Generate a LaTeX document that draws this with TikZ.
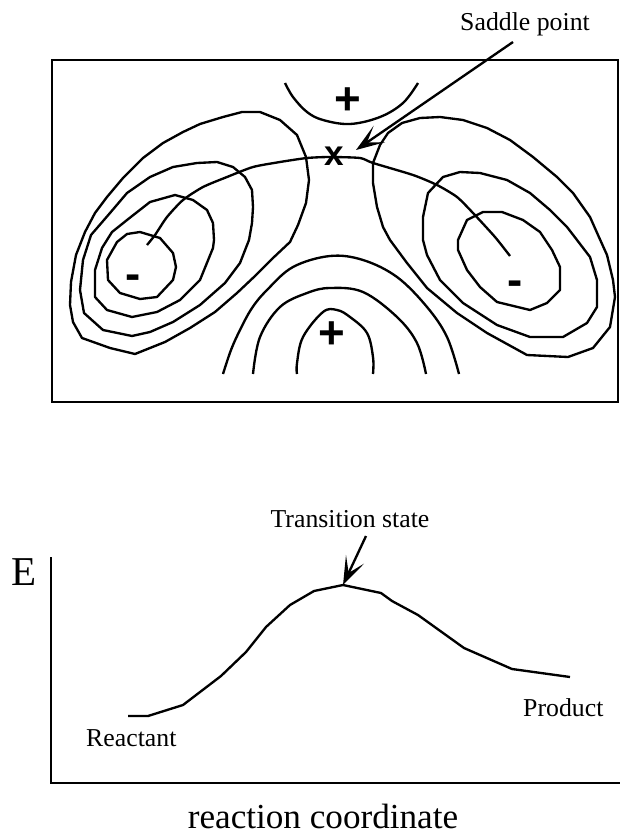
\documentclass[tikz,border=0pt]{standalone}
\usepackage{fontspec}
\setmainfont{Liberation Serif}
\newfontfamily\signfont{Liberation Sans}[BoldFont={Liberation Sans Bold}]
\usetikzlibrary{arrows.meta}

\begin{document}
\begin{tikzpicture}[
    x=0.03cm, y=-0.03cm,
    contour/.style={line width=2pt, line join=round},
    frame/.style={line width=2.2pt},
    lbl/.style={inner sep=0pt, font=\fontsize{22}{26}\selectfont},
    biglbl/.style={inner sep=0pt, font=\fontsize{30}{36}\selectfont},
    sign/.style={inner sep=0pt, anchor=base, font=\signfont\bfseries\fontsize{39}{44}\selectfont},
    arr/.style={-{Stealth[length=0.85cm, width=0.6cm, inset=0.45cm]}, line width=2pt}
  ]
    \useasboundingbox (0,0) rectangle (620,837);
    % Potential energy surface
    \draw[frame] (52,60) rectangle (618,402);
    % left well
    \draw[contour] (82,338) -- (73,322) -- (70,305) -- (71,282) -- (76,255) -- (85,232)
      -- (95,213) -- (107,197) -- (123,178) -- (143,158) -- (163,143) -- (183,132)
      -- (200,124) -- (223,117) -- (242,112) -- (260,112) -- (280,120) -- (297,135)
      -- (306,157) -- (309,180) -- (306,203) -- (298,225) -- (290,242) -- (273,258)
      -- (255,276) -- (237,293) -- (215,312) -- (190,328) -- (165,342) -- (135,354)
      -- (110,348) -- cycle;
    \draw[contour] (132,336) -- (103,330) -- (84,313) -- (80,290) -- (83,260) -- (91,235)
      -- (110,213) -- (127,193) -- (150,177) -- (173,167) -- (197,163) -- (217,162)
      -- (233,167) -- (245,177) -- (252,190) -- (253,207) -- (252,223) -- (249,240)
      -- (240,263) -- (225,283) -- (200,305) -- (173,322) -- (150,332) -- cycle;
    \draw[contour] (132,317) -- (107,310) -- (95,297) -- (95,270) -- (102,248) -- (112,232)
      -- (127,220) -- (150,202) -- (175,195) -- (193,200) -- (207,210) -- (213,223)
      -- (214,240) -- (213,248) -- (200,280) -- (180,300) -- (157,312) -- cycle;
    \draw[contour] (140,232) -- (160,238) -- (173,253) -- (176,267) -- (173,280) -- (157,297)
      -- (140,299) -- (120,293) -- (108,280) -- (107,260) -- (117,242) -- (127,234) -- cycle;
    % right well
    \draw[contour] (380,145) -- (388,133) -- (402,123) -- (420,118) -- (440,117) -- (463,120)
      -- (487,128) -- (510,140) -- (533,157) -- (557,177) -- (573,193) -- (590,217)
      -- (598,235) -- (607,255) -- (613,280) -- (615,297) -- (610,327) -- (593,348)
      -- (568,357) -- (527,355) -- (487,333) -- (457,313) -- (427,288) -- (407,263)
      -- (390,240) -- (383,227) -- (377,207) -- (373,183) -- (373,163) -- cycle;
    \draw[contour] (423,240) -- (423,217) -- (428,193) -- (443,177) -- (460,172) -- (480,173)
      -- (507,180) -- (530,193) -- (550,210) -- (567,227) -- (577,240) -- (590,257)
      -- (597,280) -- (597,307) -- (587,323) -- (563,337) -- (530,337) -- (497,325)
      -- (463,303) -- (440,280) -- (427,255) -- cycle;
    \draw[contour] (458,240) -- (467,220) -- (483,212) -- (502,212) -- (523,220) -- (540,232)
      -- (552,250) -- (560,267) -- (560,290) -- (547,303) -- (530,310) -- (497,302)
      -- (480,287) -- (467,270) -- (458,250) -- cycle;
    % maxima
    \draw[contour] plot[smooth, tension=0.6] coordinates {(285,83) (293,97) (307,112)
      (323,120) (350,124) (380,117) (403,103) (418,83)};
    \draw[contour] plot[smooth, tension=0.6] coordinates {(223,374) (231,350) (240,330)
      (252,308) (267,290) (293,267) (330,256) (363,260) (397,277) (427,307) (447,337) (459,374)};
    \draw[contour] plot[smooth, tension=0.6] coordinates {(253,374) (260,337) (280,307)
      (307,293) (330,288) (363,292) (397,317) (417,343) (426,374)};
    \draw[contour] plot[smooth, tension=0.6] coordinates {(297,374) (297,363) (303,337)
      (323,312) (337,310) (350,317) (367,333) (373,357) (373,374)};
    % reaction path
    \draw[contour] plot[smooth, tension=0.4] coordinates {(147,245) (155,235) (167,217)
      (183,200) (203,187) (227,177) (253,167) (280,162) (307,158) (330,157) (360,158)
      (373,163) (413,175) (437,185) (457,197) (473,213) (495,237) (510,256)};
    % signs
    \node[sign] (maxtop) at (348,114) {+};
    \node[sign] (maxlow) at (332,348) {+};
    \node[sign] (minleft) at (133,289) {-};
    \node[sign] (minright) at (515,295) {-};
    \node[sign, font=\signfont\bfseries\fontsize{30}{34}\selectfont] (ts) at (334,165) {x};
    \node[lbl, anchor=base west] (saddlelbl) at (460,30) {Saddle point};
    \coordinate (saddletail) at (513,42);
    \coordinate (saddletip) at (356,150);
    \draw[arr] (saddletail) -- (saddletip);
    % Energy profile
    \coordinate (origin) at (51,783);
    \draw[frame] (51,557) -- (origin) -- (620,783);
    \node[inner sep=0pt, anchor=base, font=\fontsize{35}{40}\selectfont] (elbl) at (24,585) {E};
    \node[biglbl, anchor=base] (xlbl) at (323,828) {reaction coordinate};
    \draw[contour] (128,716) -- (148,716) -- (183,705) -- (221,676) -- (246,652) -- (266,627)
      -- (290,605) -- (314,591) -- (343,585) -- (381,593) -- (392,601) -- (418,615)
      -- (464,648) -- (512,669) -- (570,677);
    \node[lbl, anchor=base] (tslbl) at (350,527) {Transition state};
    \coordinate (peaktail) at (366,536);
    \coordinate (peaktip) at (343,585);
    \draw[arr] (peaktail) -- (peaktip);
    \node[lbl, anchor=base west] (reactlbl) at (86,746) {Reactant};
    \node[lbl, anchor=base west] (prodlbl) at (523,716) {Product};
  \end{tikzpicture}
\end{document}
